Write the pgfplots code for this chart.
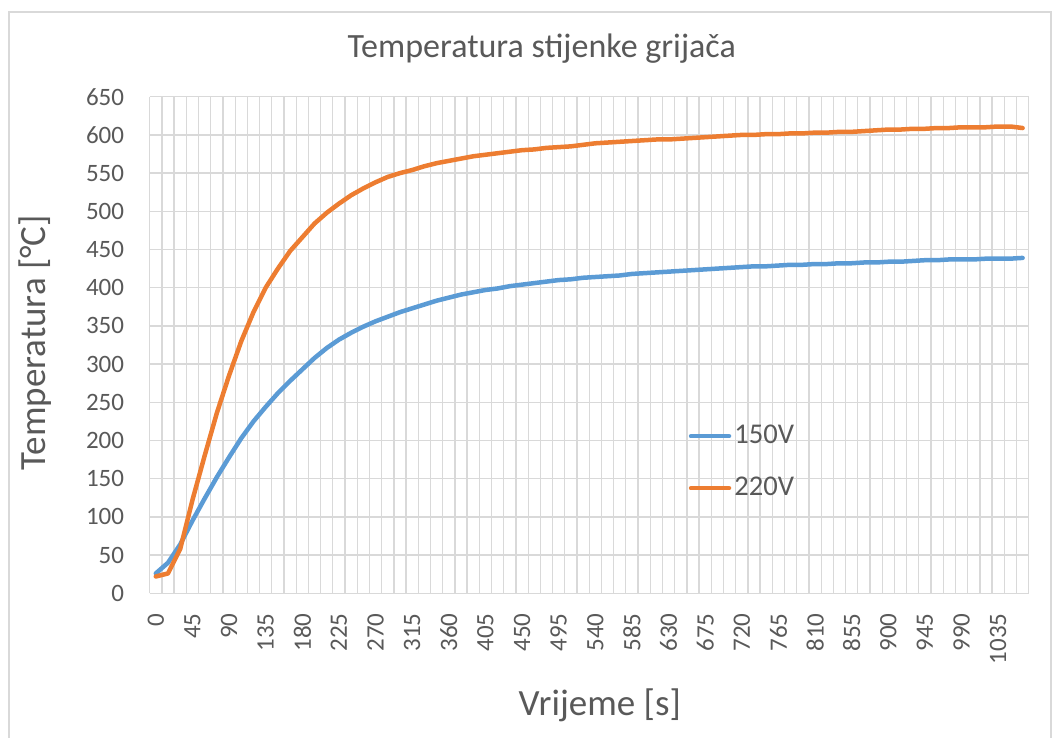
\documentclass[border=0pt]{standalone}
\usepackage{fontspec}
\setmainfont{Carlito}
\usepackage{pgfplots}
\usepackage{pgfplotstable}
\pgfplotsset{compat=1.18}
\definecolor{c150}{HTML}{5B9BD5}
\definecolor{c220}{HTML}{ED7D31}
\definecolor{gridc}{HTML}{D9D9D9}
\definecolor{txt}{HTML}{595959}
\pgfplotstableread{
t v150 v220
0 26 22
15 40 26
30 64 58
45 95 122
60 124 180
75 152 236
90 178 285
105 203 330
120 225 368
135 244 400
150 262 425
165 278 448
180 293 466
195 308 484
210 321 498
225 332 510
240 341 521
255 349 530
270 356 538
285 362 545
300 368 550
315 373 554
330 378 559
345 383 563
360 387 566
375 391 569
390 394 572
405 397 574
420 399 576
435 402 578
450 404 580
465 406 581
480 408 583
495 410 584
510 411 585
525 413 587
540 414 589
555 415 590
570 416 591
585 418 592
600 419 593
615 420 594
630 421 594
645 422 595
660 423 596
675 424 597
690 425 598
705 426 599
720 427 600
735 428 600
750 428 601
765 429 601
780 430 602
795 430 602
810 431 603
825 431 603
840 432 604
855 432 604
870 433 605
885 433 606
900 434 607
915 434 607
930 435 608
945 436 608
960 436 609
975 437 609
990 437 610
1005 437 610
1020 438 610
1035 438 611
1050 438 611
1065 439 609
}\datatable
\begin{document}
\begin{tikzpicture}
\useasboundingbox (0,0) rectangle (529.5pt,369pt);
\draw[gridc, line width=0.7pt] (4.5pt,-2pt) -- (4.5pt,363pt) -- (525.5pt,363pt) -- (525.5pt,-2pt);
\begin{axis}[
  at={(74.85pt,72.35pt)}, anchor=south west,
  scale only axis, width=439.5pt, height=248.3pt,
  xmin=-7.5, xmax=1072.5, ymin=0, ymax=650,
  axis line style={draw=none},
  ytick={0,50,...,650},
  xtick={0,45,...,1035},
  minor xtick={-7.5,7.5,...,1072.5},
  xminorgrids=true, ymajorgrids=true, xmajorgrids=false,
  grid style={gridc, line width=0.65pt},
  minor grid style={gridc, line width=0.65pt},
  major tick length=0pt, minor tick length=0pt,
  tick style={draw=none},
  /pgf/number format/assume math mode=true,
  /pgf/number format/1000 sep={},
  yticklabel style={font=\fontsize{12.5pt}{15pt}\selectfont, text=txt, xshift=-9.3pt},
  xticklabel style={font=\fontsize{12.5pt}{15pt}\selectfont, text=txt, yshift=-6.5pt, rotate=90, anchor=east},
  title={Temperatura stijenke grijača},
  title style={at={(axis description cs:0.446,1.072)}, anchor=center, font=\fontsize{17pt}{20pt}\selectfont, text=txt},
  xlabel={Vrijeme [s]},
  xlabel style={at={(axis description cs:0.512,-0.225)}, anchor=center, font=\fontsize{18.5pt}{22pt}\selectfont, text=txt},
  ylabel={Temperatura [°C]},
  ylabel style={at={(axis description cs:-0.130,0.505)}, anchor=center, rotate=0, font=\fontsize{18.5pt}{22pt}\selectfont, text=txt},
  legend style={draw=none, fill=none, at={(axis description cs:0.606,0.264)}, anchor=west,
    font=\fontsize{14.3pt}{17pt}\selectfont, text=txt,
    nodes={inner sep=1.5pt, text height=10pt, text depth=3pt}, row sep=10pt},
  legend cell align=left,
  legend image code/.code={\draw[#1, line width=2.25pt, line cap=round] (0pt,0pt) -- (19pt,0pt);},
]
\addplot[c150, line width=2.25pt, line join=round, line cap=round] table[x=t, y=v150] {\datatable};
\addlegendentry{150V}
\addplot[c220, line width=2.25pt, line join=round, line cap=round] table[x=t, y=v220] {\datatable};
\addlegendentry{220V}
\end{axis}
\end{tikzpicture}
\end{document}
